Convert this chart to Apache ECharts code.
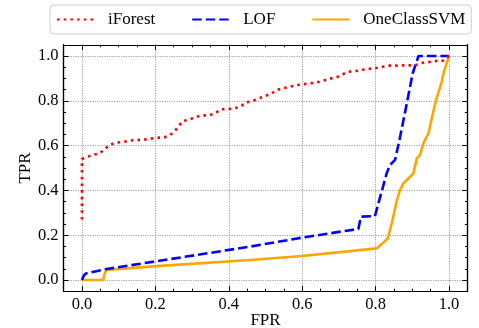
<!DOCTYPE html>
<html><head><meta charset="utf-8">
<script src="https://cdn.jsdelivr.net/npm/echarts@6/dist/echarts.min.js"></script>
<style>html,body{margin:0;padding:0;background:#fff}#c{width:479px;height:328px}</style>
</head><body><div id="c"></div>
<script>
var seriesNames = ['iForest', 'LOF', 'OneClassSVM'];
var majorTicks = [0, 0.2, 0.4, 0.6, 0.8, 1.0];
var minorTicks = [-0.05,0,0.05,0.1,0.15,0.2,0.25,0.3,0.35,0.4,0.45,0.5,0.55,0.6,0.65,0.7,0.75,0.8,0.85,0.9,0.95,1.0,1.05];
var iforest = [[0,0.27],[0,0.54],[0.015,0.55],[0.034,0.56],[0.049,0.566],[0.063,0.586],[0.075,0.603],[0.093,0.613],[0.113,0.616],[0.129,0.622],[0.149,0.625],[0.167,0.626],[0.187,0.631],[0.205,0.635],[0.225,0.637],[0.240,0.647],[0.254,0.667],[0.264,0.688],[0.275,0.710],[0.292,0.716],[0.308,0.726],[0.326,0.735],[0.346,0.735],[0.363,0.744],[0.378,0.762],[0.396,0.763],[0.414,0.766],[0.432,0.774],[0.447,0.793],[0.465,0.799],[0.482,0.811],[0.499,0.821],[0.517,0.833],[0.530,0.848],[0.549,0.856],[0.567,0.863],[0.585,0.870],[0.603,0.874],[0.621,0.878],[0.640,0.882],[0.658,0.890],[0.676,0.899],[0.694,0.905],[0.709,0.918],[0.726,0.930],[0.747,0.933],[0.765,0.939],[0.783,0.943],[0.801,0.946],[0.819,0.952],[0.837,0.957],[0.856,0.957],[0.874,0.958],[0.892,0.958],[0.910,0.960],[0.928,0.970],[0.946,0.973],[0.965,0.978],[0.983,0.979],[1.0,1.0]];
var lof = [[0,0],[0.005,0.02],[0.012,0.03],[0.067,0.049],[0.458,0.149],[0.599,0.189],[0.753,0.228],[0.760,0.283],[0.798,0.285],[0.830,0.476],[0.839,0.513],[0.853,0.536],[0.866,0.633],[0.885,0.789],[0.901,0.923],[0.917,1.0],[1.0,1.0]];
var ocsvm = [[0,0],[0.058,0],[0.062,0.03],[0.067,0.045],[0.213,0.063],[0.458,0.089],[0.599,0.107],[0.730,0.129],[0.803,0.141],[0.815,0.158],[0.833,0.185],[0.845,0.26],[0.857,0.35],[0.866,0.40],[0.876,0.432],[0.894,0.461],[0.903,0.476],[0.912,0.543],[0.921,0.558],[0.930,0.610],[0.944,0.655],[0.957,0.751],[0.966,0.811],[0.980,0.885],[0.986,0.930],[1.0,1.0]];

var FONT = 'Liberation Serif';
function mkAxis(dim, pos, major, withLabel, name) {
  var a = {
    type: 'value', position: pos, min: -0.05, max: 1.05,
    axisLine: {show: true, onZero: false, lineStyle: {color: '#000', width: 1.2}},
    axisTick: {show: true, inside: true, length: major ? 5 : 2.5, customValues: major ? majorTicks : minorTicks, lineStyle: {color: '#000', width: 1}},
    axisLabel: {show: withLabel, customValues: majorTicks, margin: 5, color: '#000', fontFamily: FONT, fontSize: 16.5,
      formatter: function (v) { return v.toFixed(1); }},
    splitLine: {show: withLabel, lineStyle: {color: '#999', width: 0.9, type: [1.2, 1.2]}}
  };
  if (name) {
    a.name = name; a.nameLocation = 'middle'; a.nameMoveOverlap = false;
    a.nameTextStyle = {color: '#000', fontFamily: FONT, fontSize: 17};
    a.nameGap = dim === 'x' ? 21 : 30;
  }
  return a;
}
var chart = echarts.init(document.getElementById('c'), null, {renderer: 'canvas'});
chart.setOption({
  animation: false,
  backgroundColor: '#fff',
  grid: {left: 63.6, right: 11.6, top: 44.8, bottom: 36.8, containLabel: false, outerBoundsMode: 'none'},
  xAxis: [mkAxis('x', 'bottom', true, true, 'FPR'), mkAxis('x', 'bottom', false, false), mkAxis('x', 'top', true, false), mkAxis('x', 'top', false, false)],
  yAxis: [mkAxis('y', 'left', true, true, 'TPR'), mkAxis('y', 'left', false, false), mkAxis('y', 'right', true, false), mkAxis('y', 'right', false, false)],
  legend: {
    left: 50, top: 5, padding: [6, 6], itemGap: 36, itemWidth: 37, itemHeight: 14,
    borderColor: '#d0d0d0', borderWidth: 1, borderRadius: 4, backgroundColor: '#fff',
    itemStyle: {opacity: 0},
    textStyle: {color: '#000', fontFamily: FONT, fontSize: 17, padding: [0, 0, 0, 9]},
    data: seriesNames
  },
  series: [
    {name: seriesNames[0], type: 'line', data: iforest, symbol: 'none', color: '#ff0000', z: 4,
      lineStyle: {color: '#ff0000', width: 2.6, type: [2.6, 4.1], cap: 'butt'}},
    {name: seriesNames[1], type: 'line', data: lof, symbol: 'none', color: '#0000ff', z: 3,
      lineStyle: {color: '#0000ff', width: 2.6, type: [9.5, 4]}},
    {name: seriesNames[2], type: 'line', data: ocsvm, symbol: 'none', color: '#ffa500', z: 2,
      lineStyle: {color: '#ffa500', width: 2.6}}
  ]
});
</script></body></html>
